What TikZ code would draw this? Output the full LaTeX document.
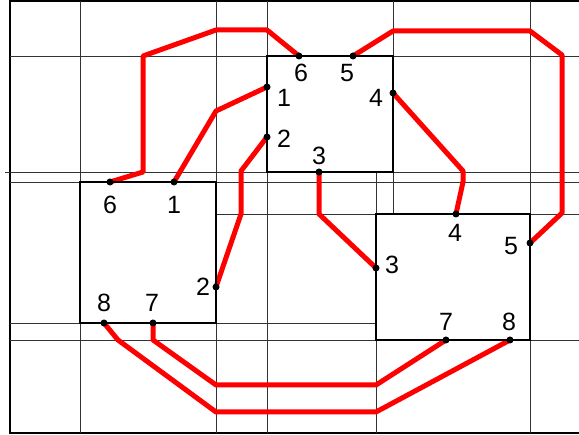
\documentclass[tikz,border=0pt]{standalone}
\usepackage{fontspec}
\setmainfont{Liberation Sans}
\usetikzlibrary{backgrounds}
\tikzset{
  gridline/.style = {draw=black!80, line width=0.8pt},
  frameline/.style = {draw=black, line width=1.8pt},
  chip/.style   = {rectangle, draw=black, line width=1.6pt, inner sep=0pt, outer sep=0pt},
  pindot/.style = {circle, fill=black, inner sep=0pt, minimum size=7pt},
  pinlbl/.style = {font=\fontsize{25}{25}\selectfont, inner sep=0pt},
  wire/.style   = {draw=red, line width=5pt, line join=round},
}

\begin{document}
\begin{tikzpicture}[x=1pt, y=-1pt]
  \useasboundingbox (0,0) rectangle (579,435);

  % chips
  \node[chip, minimum width=136pt, minimum height=141pt] (boxA) at (148,252.5) {};
  \node[chip, minimum width=126pt, minimum height=116pt] (boxC) at (330,114) {};
  \node[chip, minimum width=154pt, minimum height=126pt] (boxB) at (453,277) {};

  % pins of the left chip
  \node[pindot] (pA6) at (110,182) {};
  \node[pindot] (pA1) at (174,182) {};
  \node[pindot] (pA2) at (216,287) {};
  \node[pindot] (pA8) at (104,323) {};
  \node[pindot] (pA7) at (153,323) {};
  \node[pinlbl] (lA6) at (110,205) {6};
  \node[pinlbl] (lA1) at (174,205) {1};
  \node[pinlbl] (lA2) at (203,287) {2};
  \node[pinlbl] (lA8) at (104,303) {8};
  \node[pinlbl] (lA7) at (152,303) {7};

  % pins of the top chip
  \node[pindot] (pC6) at (299,56) {};
  \node[pindot] (pC5) at (353,56) {};
  \node[pindot] (pC1) at (267,87) {};
  \node[pindot] (pC2) at (267,137) {};
  \node[pindot] (pC4) at (393,93) {};
  \node[pindot] (pC3) at (319,172) {};
  \node[pinlbl] (lC6) at (301,73) {6};
  \node[pinlbl] (lC5) at (347,73) {5};
  \node[pinlbl] (lC1) at (284,98) {1};
  \node[pinlbl] (lC2) at (284,139) {2};
  \node[pinlbl] (lC4) at (376,98) {4};
  \node[pinlbl] (lC3) at (319,156) {3};

  % pins of the right chip
  \node[pindot] (pB4) at (456,214) {};
  \node[pindot] (pB5) at (530,243) {};
  \node[pindot] (pB3) at (376,268) {};
  \node[pindot] (pB7) at (446,340) {};
  \node[pindot] (pB8) at (510,340) {};
  \node[pinlbl] (lB4) at (455,233) {4};
  \node[pinlbl] (lB5) at (511,246) {5};
  \node[pinlbl] (lB3) at (392,265) {3};
  \node[pinlbl] (lB7) at (446,322) {7};
  \node[pinlbl] (lB8) at (509,322) {8};

  \begin{scope}[on background layer]
    % frame and grid
    \draw[frameline] (579,1) -- (10,1) -- (10,433) -- (579,433);
    \foreach \gx in {80,216,267,530}
      \draw[gridline] (\gx,1) -- (\gx,433);
    \draw[gridline] (393,1) -- (393,214);
    \draw[gridline] (376,172) -- (376,433);
    \foreach \gy in {56,182,340}
      \draw[gridline] (10,\gy) -- (579,\gy);
    \draw[gridline] (5,172) -- (579,172);
    \draw[gridline] (216,214) -- (579,214);
    \draw[gridline] (10,323) -- (376,323);

    % wires
    \draw[wire] (pA6.center) -- (143,172) -- (143,56) -- (216,30) -- (267,30) -- (pC6.center);
    \draw[wire] (pA1.center) -- (216,111) -- (pC1.center);
    \draw[wire] (pA2.center) -- (241,214) -- (241,171) -- (pC2.center);
    \draw[wire] (pC3.center) -- (319,214) -- (pB3.center);
    \draw[wire] (pC4.center) -- (463,171) -- (463,182) -- (pB4.center);
    \draw[wire] (pC5.center) -- (393,31) -- (530,31) -- (562,55) -- (562,213) -- (pB5.center);
    \draw[wire] (pA7.center) -- (153,340) -- (216,385) -- (376,385) -- (pB7.center);
    \draw[wire] (pA8.center) -- (118,340) -- (216,412) -- (376,412) -- (pB8.center);
  \end{scope}
\end{tikzpicture}
\end{document}
